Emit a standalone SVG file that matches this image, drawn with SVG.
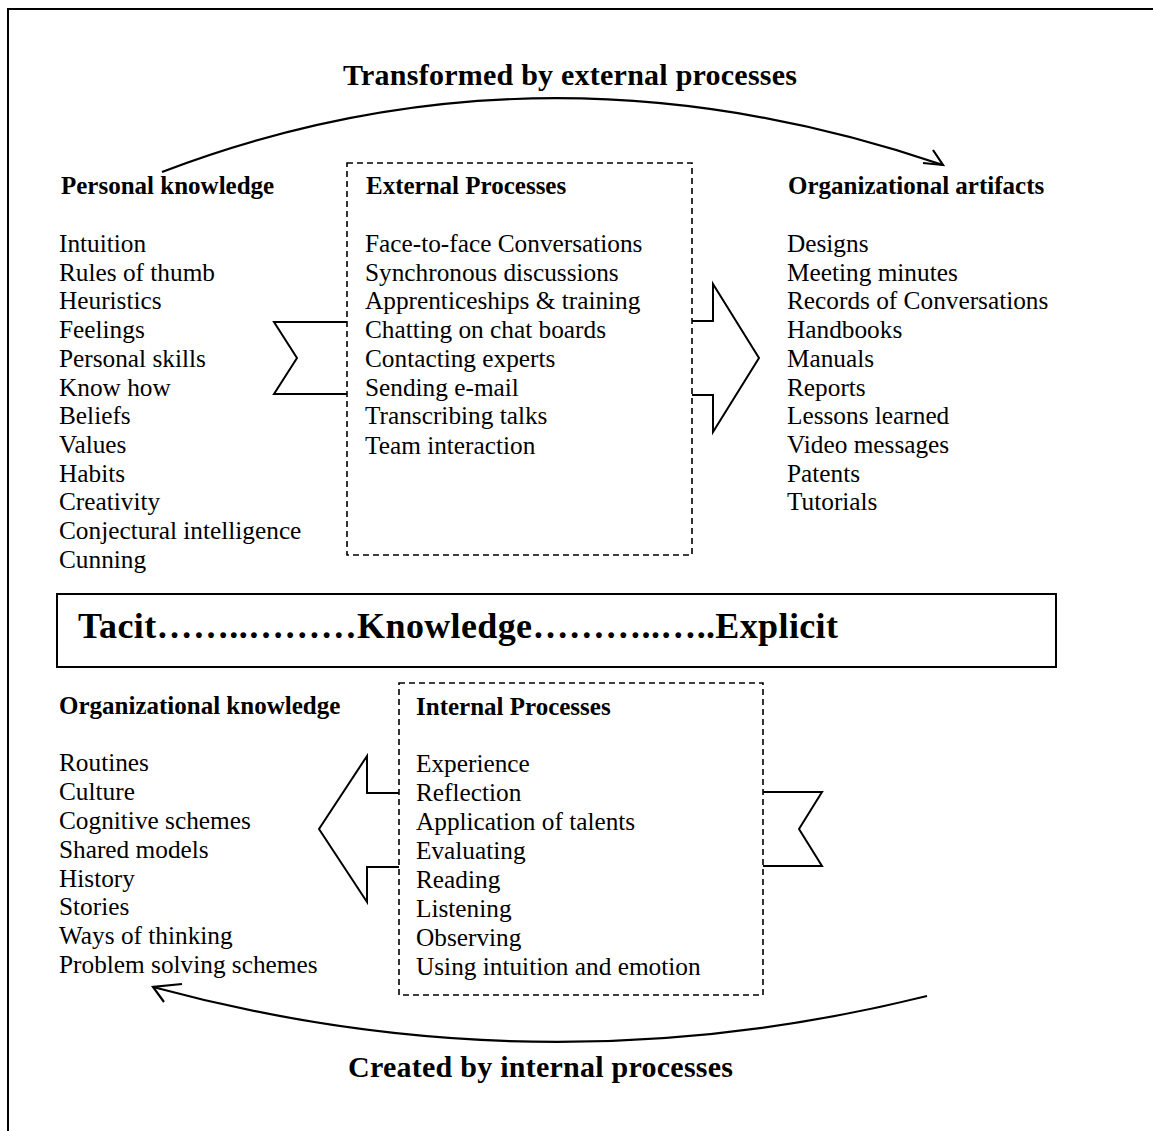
<svg xmlns="http://www.w3.org/2000/svg" width="1153" height="1131" viewBox="0 0 1153 1131">
  <style>
    text { font-family: "Liberation Serif", "Times New Roman", serif; fill: #000; }
    .item { font-size: 25.3px; }
    .head { font-size: 25px; font-weight: bold; }
    .title { font-size: 30px; font-weight: bold; }
    .banner { font-size: 36px; font-weight: bold; }
    .frame { fill: none; stroke: #000; stroke-width: 2; }
    .dash { fill: none; stroke: #000; stroke-width: 1.6; stroke-dasharray: 6 4; }
    .shape { fill: none; stroke: #000; stroke-width: 2; stroke-linejoin: miter; }
    .curve { fill: none; stroke: #000; stroke-width: 2.2; }
  </style>

  <rect width="1153" height="1131" fill="#fff"/>
  <!-- outer frame -->
  <rect class="frame" x="8" y="9" width="1200" height="1200"/>

  <!-- titles -->
  <text class="title" x="343" y="85" textLength="454">Transformed by external processes</text>
  <text class="title" x="348" y="1077" textLength="385">Created by internal processes</text>

  <!-- connectors: arcs and block arrows -->
  <g id="connectors">
    <path class="curve" d="M162,172 Q540,28 943,165"/>
    <path class="curve" d="M933,150 L943,165 L923,163"/>
    <path class="curve" d="M927,996 Q540,1092 153,987"/>
    <path class="curve" d="M182,984 L153,987 L164,1002"/>
    <!-- notched tail into external processes -->
    <path class="shape" d="M347,322 L274,322 L297,358 L274,394 L347,394"/>
    <!-- arrow out of external processes -->
    <path class="shape" d="M692,321 L713,321 L713,284 L759,358 L713,432 L713,395 L692,395"/>
    <!-- arrow out of internal processes -->
    <path class="shape" d="M399,793 L367,793 L367,756 L319,829 L367,902 L367,867 L399,867"/>
    <!-- notched tail into internal processes -->
    <path class="shape" d="M763,792 L822,792 L799,829 L822,866 L763,866"/>
  </g>

  <g id="personal-knowledge">
    <text class="head" x="61" y="194">Personal knowledge</text>
    <text class="item" x="59" y="252">Intuition</text>
    <text class="item" x="59" y="280.7">Rules of thumb</text>
    <text class="item" x="59" y="309.4">Heuristics</text>
    <text class="item" x="59" y="338.1">Feelings</text>
    <text class="item" x="59" y="366.8">Personal skills</text>
    <text class="item" x="59" y="395.5">Know how</text>
    <text class="item" x="59" y="424.2">Beliefs</text>
    <text class="item" x="59" y="452.9">Values</text>
    <text class="item" x="59" y="481.6">Habits</text>
    <text class="item" x="59" y="510.3">Creativity</text>
    <text class="item" x="59" y="539">Conjectural intelligence</text>
    <text class="item" x="59" y="567.7">Cunning</text>
  </g>

  <g id="external-processes">
    <rect class="dash" x="347" y="163" width="345" height="392"/>
    <text class="head" x="366" y="194">External Processes</text>
    <text class="item" x="365" y="252">Face-to-face Conversations</text>
    <text class="item" x="365" y="280.7">Synchronous discussions</text>
    <text class="item" x="365" y="309.4">Apprenticeships &amp; training</text>
    <text class="item" x="365" y="338.1">Chatting on chat boards</text>
    <text class="item" x="365" y="366.8">Contacting experts</text>
    <text class="item" x="365" y="395.5">Sending e-mail</text>
    <text class="item" x="365" y="424.2">Transcribing talks</text>
    <text class="item" x="365" y="454">Team interaction</text>
  </g>

  <g id="organizational-artifacts">
    <text class="head" x="788" y="194">Organizational artifacts</text>
    <text class="item" x="787" y="252">Designs</text>
    <text class="item" x="787" y="280.7">Meeting minutes</text>
    <text class="item" x="787" y="309.4">Records of Conversations</text>
    <text class="item" x="787" y="338.1">Handbooks</text>
    <text class="item" x="787" y="366.8">Manuals</text>
    <text class="item" x="787" y="395.5">Reports</text>
    <text class="item" x="787" y="424.2">Lessons learned</text>
    <text class="item" x="787" y="452.9">Video messages</text>
    <text class="item" x="787" y="481.6">Patents</text>
    <text class="item" x="787" y="510.3">Tutorials</text>
  </g>

  <g id="knowledge-scale">
    <rect class="frame" x="57" y="594" width="999" height="73"/>
    <text class="banner" x="78" y="638" textLength="760">Tacit……..………Knowledge………..…..Explicit</text>
  </g>

  <g id="organizational-knowledge">
    <text class="head" x="59" y="714">Organizational knowledge</text>
    <text class="item" x="59" y="771">Routines</text>
    <text class="item" x="59" y="800">Culture</text>
    <text class="item" x="59" y="829">Cognitive schemes</text>
    <text class="item" x="59" y="857.5">Shared models</text>
    <text class="item" x="59" y="886.5">History</text>
    <text class="item" x="59" y="915">Stories</text>
    <text class="item" x="59" y="944">Ways of thinking</text>
    <text class="item" x="59" y="973">Problem solving schemes</text>
  </g>

  <g id="internal-processes">
    <rect class="dash" x="399" y="683" width="364" height="312"/>
    <text class="head" x="416" y="715">Internal Processes</text>
    <text class="item" x="416" y="772">Experience</text>
    <text class="item" x="416" y="800.5">Reflection</text>
    <text class="item" x="416" y="830">Application of talents</text>
    <text class="item" x="416" y="859">Evaluating</text>
    <text class="item" x="416" y="888">Reading</text>
    <text class="item" x="416" y="916.5">Listening</text>
    <text class="item" x="416" y="946">Observing</text>
    <text class="item" x="416" y="975">Using intuition and emotion</text>
  </g>
</svg>
